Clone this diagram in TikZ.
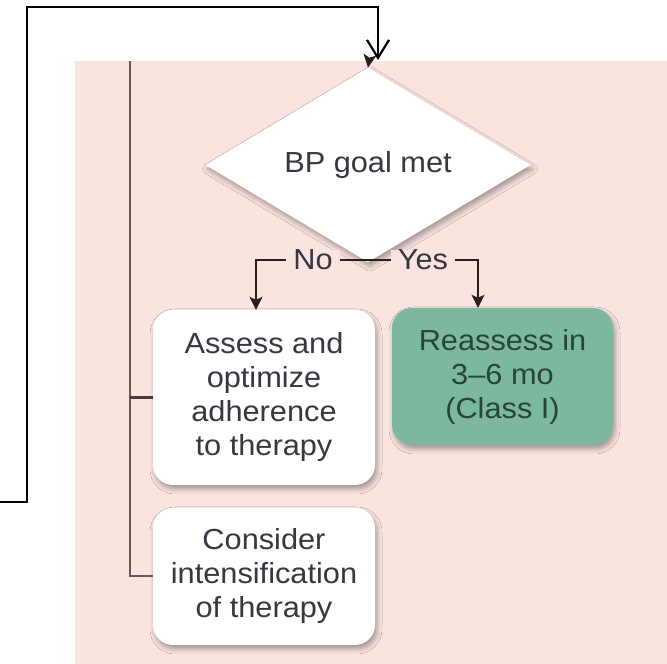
\documentclass[tikz,border=0pt]{standalone}
\usepackage{fontspec}
\setmainfont{Liberation Sans}[FakeStretch=1.06]
\usetikzlibrary{shapes.geometric,arrows.meta,shadows.blur,calc}

\definecolor{panel}{RGB}{250,228,223}
\definecolor{treeline}{RGB}{105,85,85}
\definecolor{inkgray}{RGB}{55,55,65}
\definecolor{sage}{RGB}{124,184,158}
\definecolor{sageink}{RGB}{40,68,55}
\definecolor{tipcol}{RGB}{45,30,30}

\begin{document}
\begin{tikzpicture}[x=1pt,y=1pt,
  every node/.style={font=\fontsize{29}{34}\selectfont, text=inkgray},
  softshadow/.style={blur shadow={shadow xshift=2pt, shadow yshift=-4pt,
      shadow blur radius=5pt, shadow opacity=35}},
  card/.style={rectangle, rounded corners=20pt, fill=white, align=center,
      inner sep=0pt, softshadow},
  greencard/.style={card, fill=sage, text=sageink},
  decision/.style={diamond, fill=white, inner sep=0pt, softshadow,
      minimum width=325pt, minimum height=130pt},
  branchlabel/.style={fill=panel, inner xsep=7pt, inner ysep=0pt},
  flow/.style={draw=tipcol, line width=1.8pt,
      -{Stealth[length=13pt,width=13pt,inset=3pt]}},
  tree/.style={draw=treeline, line width=2pt},
  loopline/.style={draw=black, line width=2.5pt,
      -{Straight Barb[length=18pt,width=22pt,line width=2.2pt]}},
]
\useasboundingbox (0,0) rectangle (667,664);

% panel behind the flowchart
\fill[panel] (75,0) rectangle (667,603);

% decision and action boxes
\node[decision] (goal) at (368,499) {BP goal met};
\node[card, minimum width=222pt, minimum height=175pt] (assess) at (264,266.5)
  {Assess and\\optimize\\adherence\\to therapy};
\node[greencard, minimum width=221pt, minimum height=137pt] (reassess) at (502.5,287.5)
  {Reassess in\\3--6 mo\\(Class I)};
\node[card, minimum width=222pt, minimum height=137pt] (consider) at (264,87.5)
  {Consider\\intensification\\of therapy};

% branch labels
\node[branchlabel] (no) at (313,404) {No};
\node[branchlabel] (yes) at (423,404) {Yes};

% helper points
\coordinate (inTop) at (369,603);
\coordinate (treeTop) at (130,603);
\coordinate (noTurn) at (256,404);
\coordinate (yesTurn) at (478,404);
\coordinate (stemFoot) at (368,404);
\coordinate (loopStart) at (0,162);
\coordinate (loopLeft) at (27,162);
\coordinate (loopTop) at (27,657);
\coordinate (loopEnd) at (378,604);

% entry arrow into the decision
\draw[flow] (inTop) -- (goal.north);

% yes / no branches
\draw[white, line width=1.8pt] (goal.south) -- (stemFoot);
\draw[tipcol, line width=1.8pt] (no.east) -- (yes.west);
\draw[flow] (no.west) -- (noTurn) -- (noTurn |- assess.north);
\draw[flow] (yes.east) -- (yesTurn) -- (yesTurn |- reassess.north);

% left bracket tying the follow-up actions
\draw[tree] (treeTop) |- (consider.west);
\draw[treeline!70!black, line width=3pt] (assess.west) -- (assess.west -| treeTop);

% outer feedback loop
\draw[loopline] (loopStart) -- (loopLeft) -- (loopTop) -| (loopEnd);
\end{tikzpicture}
\end{document}
